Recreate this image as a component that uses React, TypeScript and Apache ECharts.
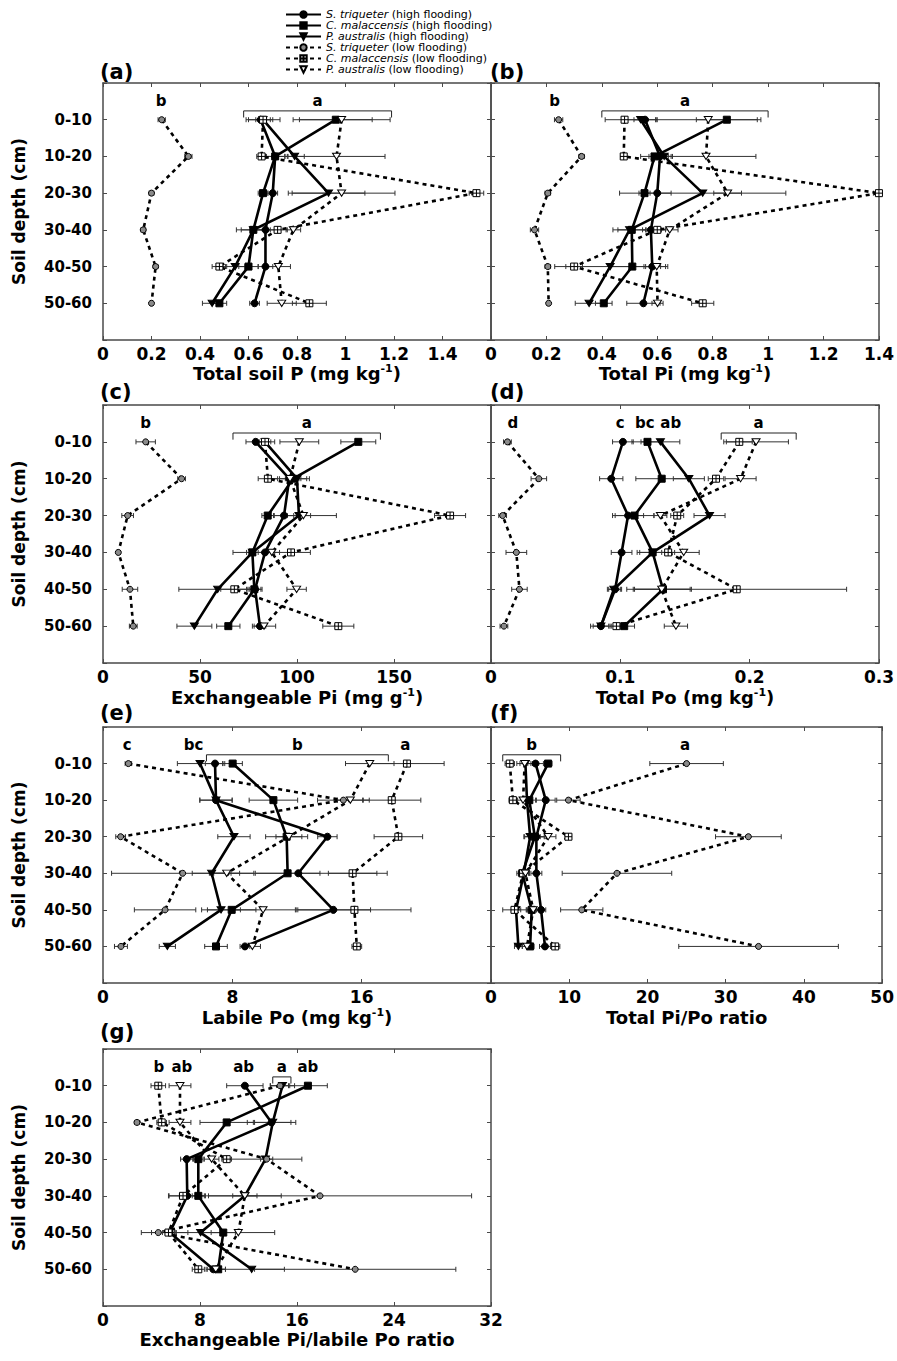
import React, { useEffect, useRef } from 'react';
import * as echarts from 'echarts';

// ---------- data ----------
const depthLabels = ['0-10', '10-20', '20-30', '30-40', '40-50', '50-60'];
const seriesNames = [
  'S. triqueter (high flooding)',
  'C. malaccensis (high flooding)',
  'P. australis (high flooding)',
  'S. triqueter (low flooding)',
  'C. malaccensis (low flooding)',
  'P. australis (low flooding)',
];
const speciesNames = ['S. triqueter', 'C. malaccensis', 'P. australis', 'S. triqueter', 'C. malaccensis', 'P. australis'];

// rows: S.tri high, C.mal high, P.aus high, S.tri low, C.mal low, P.aus low ; columns: depths
const totalSoilPMean = [
  [0.65, 0.71, 0.70, 0.67, 0.67, 0.625],
  [0.96, 0.71, 0.66, 0.62, 0.60, 0.48],
  [0.66, 0.79, 0.93, 0.62, 0.545, 0.45],
  [0.242, 0.352, 0.20, 0.166, 0.217, 0.20],
  [0.66, 0.654, 1.54, 0.72, 0.48, 0.851],
  [0.984, 0.963, 0.984, 0.785, 0.723, 0.737],
];
const totalSoilPErr = [
  [0.05, 0.04, 0.02, 0.05, 0.03, 0.02],
  [0.15, 0.05, 0.02, 0.07, 0.04, 0.03],
  [0.07, 0.04, 0.15, 0.05, 0.04, 0.04],
  [0.015, 0.015, 0.01, 0.01, 0.01, 0.005],
  [0.03, 0.02, 0.03, 0.04, 0.03, 0.07],
  [0.2, 0.2, 0.22, 0.03, 0.05, 0.06],
];
const totalSoilPLetters: [string, number, number][] = [['b', 0.24, 0.24], ['a', 0.58, 1.19]];

const totalPiMean = [
  [0.556, 0.61, 0.60, 0.577, 0.582, 0.55],
  [0.851, 0.59, 0.554, 0.508, 0.51, 0.407],
  [0.54, 0.625, 0.764, 0.50, 0.43, 0.354],
  [0.244, 0.327, 0.205, 0.157, 0.205, 0.208],
  [0.482, 0.479, 1.40, 0.60, 0.30, 0.764],
  [0.784, 0.776, 0.854, 0.645, 0.598, 0.601],
];
const totalPiErr = [
  [0.04, 0.04, 0.05, 0.03, 0.03, 0.06],
  [0.11, 0.05, 0.02, 0.05, 0.08, 0.03],
  [0.06, 0.03, 0.3, 0.06, 0.2, 0.05],
  [0.015, 0.01, 0.01, 0.015, 0.01, 0.005],
  [0.07, 0.01, 0.02, 0.03, 0.03, 0.04],
  [0.19, 0.18, 0.05, 0.03, 0.04, 0.02],
];
const totalPiLetters: [string, number, number][] = [['b', 0.23, 0.23], ['a', 0.4, 1.0]];

const exchPiMean = [
  [78.7, 96, 93.3, 83.5, 78.4, 80.9],
  [131.6, 98, 84.9, 77, 78, 64.6],
  [83.5, 100, 101, 77, 59.1, 47.1],
  [22, 40.5, 12.7, 7.9, 13.9, 15.6],
  [83.5, 85, 178.9, 96.9, 67.7, 121.3],
  [101.2, 96.4, 103.3, 87, 99.8, 83],
];
const exchPiErr = [
  [5, 5, 5, 5, 3, 3],
  [9, 4, 3, 10, 4, 6],
  [5, 5, 6, 3, 20, 9],
  [5, 2, 3, 1, 4, 2],
  [3, 5, 8, 10, 7, 8],
  [10, 10, 17, 4, 5, 6],
];
const exchPiLetters: [string, number, number][] = [['b', 22, 22], ['a', 67, 143]];

const totalPoMean = [
  [0.102, 0.093, 0.106, 0.101, 0.096, 0.085],
  [0.121, 0.132, 0.111, 0.125, 0.133, 0.103],
  [0.131, 0.153, 0.169, 0.125, 0.095, 0.085],
  [0.0127, 0.037, 0.009, 0.0196, 0.022, 0.010],
  [0.192, 0.174, 0.144, 0.137, 0.19, 0.097],
  [0.205, 0.193, 0.131, 0.149, 0.132, 0.143],
];
const totalPoErr = [
  [0.008, 0.009, 0.012, 0.008, 0.005, 0.008],
  [0.012, 0.02, 0.015, 0.012, 0.022, 0.008],
  [0.015, 0.012, 0.012, 0.01, 0.005, 0.006],
  [0.003, 0.006, 0.003, 0.008, 0.006, 0.003],
  [0.01, 0.006, 0.005, 0.005, 0.085, 0.005],
  [0.025, 0.012, 0.005, 0.012, 0.022, 0.009],
];
const totalPoLetters: [string, number, number][] = [
  ['d', 0.017, 0.017], ['c', 0.1, 0.1], ['bc', 0.119, 0.119], ['ab', 0.139, 0.139], ['a', 0.178, 0.236],
];

const labilePoMean = [
  [6.93, 6.99, 13.88, 12.08, 14.25, 8.78],
  [8.02, 10.54, 11.36, 11.42, 7.96, 6.99],
  [6.0, 6.99, 8.1, 6.72, 7.3, 3.98],
  [1.57, 14.87, 1.09, 4.93, 3.84, 1.11],
  [18.8, 17.86, 18.27, 15.44, 15.55, 15.7],
  [16.5, 15.3, 11.5, 7.65, 9.9, 9.24],
];
const labilePoErr = [
  [0.6, 1.0, 0.6, 5.5, 2.3, 0.3],
  [0.6, 1.5, 1.3, 2.0, 1.5, 0.7],
  [1.4, 1.0, 1.0, 1.2, 1.2, 0.5],
  [0.2, 1.6, 0.3, 4.4, 1.9, 0.4],
  [2.3, 1.8, 1.5, 1.5, 3.5, 0.3],
  [1.5, 0.8, 0.8, 0.8, 2.0, 0.5],
];
const labilePoLetters: [string, number, number][] = [
  ['c', 1.5, 1.5], ['bc', 5.6, 5.6], ['b', 6.4, 17.65], ['a', 18.7, 18.7],
];

const piPoRatioMean = [
  [5.7, 7.0, 5.8, 5.8, 6.4, 6.9],
  [7.3, 4.9, 5.6, 4.0, 5.2, 5.0],
  [4.4, 4.6, 5.0, 4.2, 3.2, 3.5],
  [25.0, 9.9, 32.9, 16.1, 11.6, 34.2],
  [2.4, 2.8, 9.9, 4.1, 3.0, 8.2],
  [4.3, 4.1, 7.3, 4.4, 5.4, 4.6],
];
const piPoRatioErr = [
  [1, 1.2, 1, 0.7, 0.6, 0.7],
  [0.5, 0.8, 1.3, 0.5, 0.6, 0.5],
  [0.7, 0.6, 0.8, 0.6, 0.6, 0.5],
  [4.7, 1.5, 4.2, 7, 2.7, 10.2],
  [0.6, 0.5, 0.4, 0.8, 1.5, 0.6],
  [1, 0.7, 1, 0.5, 0.8, 0.6],
];
const piPoRatioLetters: [string, number, number][] = [['b', 1.5, 8.9], ['a', 24.8, 24.8]];

const exPiLabPoMean = [
  [11.7, 13.9, 6.9, 6.95, 5.5, 9.1],
  [16.9, 10.2, 7.86, 7.86, 9.92, 9.5],
  [14.8, 14.0, 13.4, 11.7, 8.05, 12.26],
  [14.6, 2.8, 13.5, 17.9, 4.56, 20.8],
  [4.56, 4.84, 10.2, 6.6, 5.4, 7.86],
  [6.35, 6.35, 8.96, 11.7, 11.16, 9.3],
];
const exPiLabPoErr = [
  [1.5, 2.0, 0.5, 1.5, 1.5, 0.5],
  [1.6, 2.2, 0.4, 0.5, 1.0, 0.6],
  [1.0, 1.5, 3.0, 1.0, 2.0, 2.7],
  [0.8, 0.2, 0.5, 12.5, 1.4, 8.3],
  [0.6, 0.4, 0.4, 0.3, 0.5, 0.5],
  [0.9, 0.9, 0.6, 3.0, 3.0, 0.8],
];
const exPiLabPoLetters: [string, number, number][] = [
  ['b', 4.6, 4.6], ['ab', 6.5, 6.5], ['ab', 11.6, 11.6], ['a', 14.0, 15.5], ['ab', 16.9, 16.9],
];

// ---------- layout / style ----------
const FONT = '"DejaVu Sans", "Liberation Sans", Arial, sans-serif';
const TRI = 'path://M0,0L10,0L5,9Z';
const BOX = 'path://M0,0H10V10H0Z M5,0V10 M0,5H10';
const markerStyles = [
  { symbol: 'circle', size: 7, fill: '#000' },
  { symbol: 'rect', size: 7, fill: '#000' },
  { symbol: TRI, size: [8, 7], fill: '#000' },
  { symbol: 'circle', size: 6, fill: '#8a8a8a' },
  { symbol: BOX, size: 7, fill: '#fff' },
  { symbol: TRI, size: [8, 7], fill: '#fff' },
];

const GRID_LEFT = [103, 491];
const GRID_WIDTH = [388, 393];
const ROW_TOP = [83, 405, 727, 1049];
const ROW_H = [257, 258, 256, 257];

const panels = [
  { label: '(a)', mean: totalSoilPMean, err: totalSoilPErr, letters: totalSoilPLetters, max: 1.6, interval: 0.2, title: 'Total soil P (mg kg{sup|-1})', col: 0, row: 0, hideMax: true, gap: 23 },
  { label: '(b)', mean: totalPiMean, err: totalPiErr, letters: totalPiLetters, max: 1.4, interval: 0.2, title: 'Total Pi (mg kg{sup|-1})', col: 1, row: 0, hideMax: false, gap: 23 },
  { label: '(c)', mean: exchPiMean, err: exchPiErr, letters: exchPiLetters, max: 200, interval: 50, title: 'Exchangeable Pi (mg g{sup|-1})', col: 0, row: 1, hideMax: true, gap: 24 },
  { label: '(d)', mean: totalPoMean, err: totalPoErr, letters: totalPoLetters, max: 0.3, interval: 0.1, title: 'Total Po (mg kg{sup|-1})', col: 1, row: 1, hideMax: false, gap: 24 },
  { label: '(e)', mean: labilePoMean, err: labilePoErr, letters: labilePoLetters, max: 24, interval: 8, title: 'Labile Po (mg kg{sup|-1})', col: 0, row: 2, hideMax: true, gap: 24 },
  { label: '(f)', mean: piPoRatioMean, err: piPoRatioErr, letters: piPoRatioLetters, max: 50, interval: 10, title: 'Total Pi/Po ratio', col: 1, row: 2, hideMax: false, gap: 24 },
  { label: '(g)', mean: exPiLabPoMean, err: exPiLabPoErr, letters: exPiLabPoLetters, max: 32, interval: 8, title: 'Exchangeable Pi/labile Po ratio', col: 0, row: 3, hideMax: false, gap: 23 },
];
const labelTops = [61, 381, 702, 1021];

function buildOption() {
  const grid: any[] = [];
  const xAxis: any[] = [];
  const yAxis: any[] = [];
  const series: any[] = [];
  const title: any[] = [];
  const axisLine = { show: true, onZero: false, lineStyle: { color: '#4a4a4a', width: 1.5 } };
  const axisTick = { show: true, inside: true, length: 4, lineStyle: { color: '#4a4a4a', width: 1 } };

  panels.forEach((p, i) => {
    grid.push({ left: GRID_LEFT[p.col], width: GRID_WIDTH[p.col], top: ROW_TOP[p.row], height: ROW_H[p.row] });
    title.push({
      text: p.label, left: p.col === 0 ? 100 : 490, top: labelTops[p.row], padding: 0,
      textStyle: { fontFamily: FONT, fontWeight: 'bold', fontSize: 21, color: '#000' },
    });
    xAxis.push({
      type: 'value', gridIndex: i, position: 'bottom', min: 0, max: p.max, interval: p.interval,
      axisLine, axisTick, splitLine: { show: false },
      axisLabel: { show: true, margin: 5, showMaxLabel: !p.hideMax, fontFamily: FONT, fontWeight: 'bold', fontSize: 17, color: '#000' },
      name: p.title, nameLocation: 'middle', nameGap: p.gap,
      nameTextStyle: {
        fontFamily: FONT, fontWeight: 'bold', fontSize: 18, color: '#000', lineHeight: 20,
        rich: { sup: { fontFamily: FONT, fontWeight: 'bold', fontSize: 11, lineHeight: 12, verticalAlign: 'top', color: '#000' } },
      },
    });
    xAxis.push({
      type: 'value', gridIndex: i, position: 'top', min: 0, max: p.max, interval: p.interval,
      axisLine, axisTick, splitLine: { show: false }, axisLabel: { show: false },
    });
    yAxis.push({
      type: 'value', gridIndex: i, position: 'left', inverse: true, min: 0, max: 7, interval: 1,
      axisLine, axisTick, splitLine: { show: false },
      axisLabel: {
        show: p.col === 0, margin: 11, fontFamily: FONT, fontWeight: 'bold', fontSize: 15, color: '#000',
        formatter: (v: number) => (v >= 1 && v <= 6 ? depthLabels[v - 1] : ''),
      },
      name: p.col === 0 ? 'Soil depth (cm)' : '', nameLocation: 'middle', nameRotate: 90, nameGap: 76,
      nameTextStyle: { fontFamily: FONT, fontWeight: 'bold', fontSize: 17, color: '#000' },
    });
    yAxis.push({
      type: 'value', gridIndex: i, position: 'right', inverse: true, min: 0, max: 7, interval: 1,
      axisLine, axisTick, splitLine: { show: false }, axisLabel: { show: false },
    });

    const xi = 2 * i;
    const yi = 2 * i;

    // error bars
    const errData: number[][] = [];
    p.mean.forEach((row, k) => row.forEach((v, j) => errData.push([v, j + 1, p.err[k][j]])));
    series.push({
      type: 'custom', xAxisIndex: xi, yAxisIndex: yi, silent: true, clip: true, z: 1,
      encode: { x: 0, y: 1 },
      data: errData,
      renderItem: (_params: any, api: any) => {
        const x = api.value(0), y = api.value(1), e = api.value(2);
        const a = api.coord([x - e, y]);
        const b = api.coord([x + e, y]);
        const c = 2.5;
        const st = { stroke: '#333', lineWidth: 1 };
        return {
          type: 'group',
          children: [
            { type: 'line', shape: { x1: a[0], y1: a[1], x2: b[0], y2: b[1] }, style: st },
            { type: 'line', shape: { x1: a[0], y1: a[1] - c, x2: a[0], y2: a[1] + c }, style: st },
            { type: 'line', shape: { x1: b[0], y1: b[1] - c, x2: b[0], y2: b[1] + c }, style: st },
          ],
        };
      },
    });

    // lines
    p.mean.forEach((row, k) => {
      const ms = markerStyles[k];
      series.push({
        type: 'line', name: seriesNames[k], xAxisIndex: xi, yAxisIndex: yi, z: 3,
        data: row.map((v, j) => [v, j + 1]),
        symbol: ms.symbol, symbolSize: ms.size, symbolKeepAspect: true,
        showSymbol: true, clip: false,
        lineStyle: { color: '#000', width: 2.6, type: k < 3 ? 'solid' : [4, 4] },
        itemStyle: { color: ms.fill, borderColor: '#000', borderWidth: 1 },
        emphasis: { disabled: true },
      });
    });

    // significance letters
    const texts = p.letters.map((l) => l[0]);
    series.push({
      type: 'custom', xAxisIndex: xi, yAxisIndex: yi, silent: true, z: 4,
      encode: { x: 0, y: 1 },
      data: p.letters.map((l) => [l[1], 0.48, l[2]]),
      renderItem: (params: any, api: any) => {
        const x1 = api.value(0), y = api.value(1), x2 = api.value(2);
        const mid = api.coord([(x1 + x2) / 2, y]);
        const children: any[] = [
          {
            type: 'text', x: mid[0], y: mid[1],
            style: { text: texts[params.dataIndex], textAlign: 'center', textVerticalAlign: 'middle', font: 'bold 15px ' + FONT, fill: '#000' },
          },
        ];
        if (x2 > x1) {
          const p1 = api.coord([x1, 0.76]);
          const p2 = api.coord([x2, 0.76]);
          const p3 = api.coord([x1, 0.94]);
          const st = { stroke: '#222', lineWidth: 1 };
          children.push({ type: 'line', shape: { x1: p1[0], y1: p1[1], x2: p2[0], y2: p2[1] }, style: st });
          children.push({ type: 'line', shape: { x1: p1[0], y1: p1[1], x2: p1[0], y2: p3[1] }, style: st });
          children.push({ type: 'line', shape: { x1: p2[0], y1: p2[1], x2: p2[0], y2: p3[1] }, style: st });
        }
        return { type: 'group', children };
      },
    });
  });

  return {
    animation: false,
    backgroundColor: '#fff',
    title,
    legend: {
      data: seriesNames, orient: 'vertical', left: 280, top: 4,
      itemWidth: 35, itemHeight: 8, itemGap: 0, selectedMode: false,
      formatter: (name: string) => {
        const k = seriesNames.indexOf(name);
        const sp = speciesNames[k];
        return '{i|' + sp + '}' + name.slice(sp.length);
      },
      textStyle: {
        fontFamily: FONT, fontSize: 11, color: '#000', lineHeight: 10,
        rich: { i: { fontFamily: FONT, fontSize: 11, fontStyle: 'italic', color: '#000', lineHeight: 10 } },
      },
    },
    grid, xAxis, yAxis, series,
  };
}

export default function App() {
  const ref = useRef<HTMLDivElement>(null);
  useEffect(() => {
    document.body.style.margin = '0';
    const chart = echarts.init(ref.current!, undefined, { renderer: 'svg' });
    chart.setOption(buildOption() as any);
    return () => chart.dispose();
  }, []);
  return <div ref={ref} style={{ width: 897, height: 1361 }} />;
}
